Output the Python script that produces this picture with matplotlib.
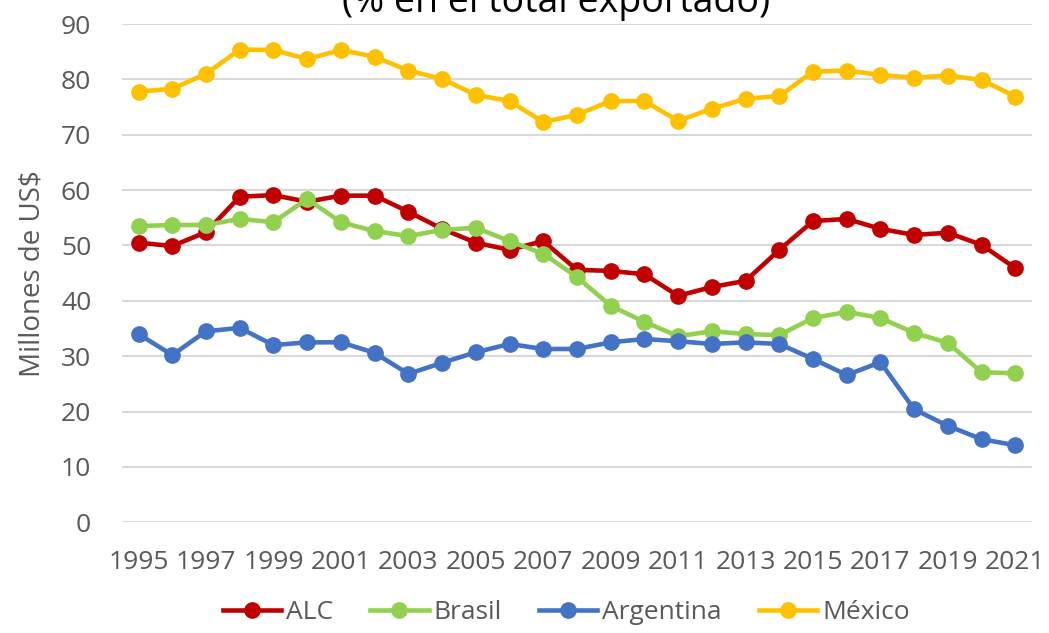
import matplotlib
matplotlib.use("Agg")
import matplotlib.pyplot as plt
from matplotlib.ticker import MultipleLocator

plt.rcParams['font.family'] = ['Open Sans', 'DejaVu Sans']

years = list(range(1995, 2022))
alc = [50.5, 49.9, 52.4, 58.8, 59.1, 57.9, 59.0, 59.0, 56.1, 53.0, 50.5, 49.2, 50.8, 45.6,
       45.4, 44.8, 40.9, 42.5, 43.6, 49.2, 54.4, 54.8, 53.0, 51.9, 52.3, 50.1, 45.9]
brasil = [53.5, 53.7, 53.7, 54.8, 54.2, 58.4, 54.2, 52.6, 51.7, 52.8, 53.2, 50.8, 48.5, 44.3,
          39.1, 36.2, 33.6, 34.5, 34.0, 33.8, 36.9, 38.0, 36.9, 34.2, 32.4, 27.1, 26.9]
argentina = [34.0, 30.2, 34.5, 35.1, 32.0, 32.5, 32.5, 30.6, 26.8, 28.8, 30.7, 32.2, 31.3, 31.3,
             32.5, 33.1, 32.7, 32.2, 32.5, 32.2, 29.5, 26.6, 28.9, 20.4, 17.4, 15.0, 13.9]
mexico = [77.8, 78.3, 81.0, 85.4, 85.3, 83.7, 85.3, 84.1, 81.6, 80.1, 77.2, 76.1, 72.3, 73.6,
          76.1, 76.1, 72.5, 74.7, 76.5, 77.0, 81.4, 81.6, 80.8, 80.3, 80.7, 79.9, 76.9]

names = ['ALC', 'Brasil', 'Argentina', 'México']
colors = ['#C00000', '#92D050', '#4472C4', '#FFC000']
series = [alc, brasil, argentina, mexico]

fig = plt.figure(figsize=(10.49, 6.33), dpi=100)
ax = fig.add_axes([0.116, 0.175, 0.868, 0.787])

for name, vals, c in zip(names, series, colors):
    ax.plot(years, vals, color=c, lw=3.3, marker='o', ms=11, label=name)

ax.set_xlim(1994.5, 2021.5)
ax.set_ylim(0, 90)
ax.yaxis.set_major_locator(MultipleLocator(10))
ax.set_xticks(years[::2])
ax.grid(axis='y', color='#d9d9d9', lw=1.5)
ax.set_axisbelow(True)
for s in ax.spines.values():
    s.set_visible(False)
ax.tick_params(length=0, labelsize=19, colors='#595959')
ax.tick_params(axis='y', pad=22)
ax.tick_params(axis='x', pad=20)
ax.set_ylabel('Millones de US$', fontsize=20, color='#595959', labelpad=10)

# title is partly outside the canvas, as in the source image
fig.text(0.53, 0.981, '(% en el total exportado)', fontsize=27, ha='center', va='baseline')

fig.legend(loc='lower center', bbox_to_anchor=(0.54, -0.025), ncol=4, frameon=False,
           fontsize=19, handlelength=2.2, columnspacing=1.4, handletextpad=0.2,
           labelcolor='#595959')

fig.savefig('out.png', dpi=100)
